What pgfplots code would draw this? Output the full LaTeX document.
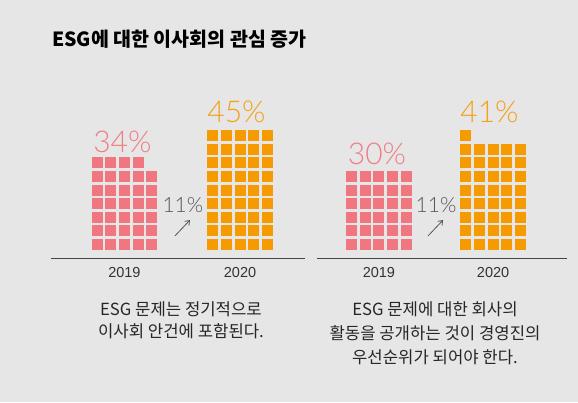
\documentclass[border=0pt]{standalone}
\usepackage{fontspec}
\usepackage{pgfplots}
\pgfplotsset{compat=1.18}
\usetikzlibrary{arrows.meta}
\setmainfont{Liberation Sans}
\newfontfamily\kr{Noto Sans CJK KR}
\IfFontExistsTF{Lato Light}{\newfontfamily\light{Lato Light}}{\newfontfamily\light{Liberation Sans}}

\definecolor{bg}{HTML}{E6E6E6}
\definecolor{pinkc}{HTML}{F07780}
\definecolor{orangec}{HTML}{F59A00}
\definecolor{pinklab}{HTML}{F07D86}
\definecolor{orangelab}{HTML}{F5A01A}
\definecolor{axisgray}{HTML}{444444}
\definecolor{midgray}{HTML}{555555}

\pgfplotsset{
  waffle/.style={
    x=13.6pt, y=13.6pt, ymin=0, ymax=11,
    anchor=south west, clip=false,
    axis x line=bottom, axis y line=none,
    x axis line style={-, draw=axisgray, line width=0.9pt},
    major tick length=0pt,
    xticklabels={2019,2020},
    xticklabel style={anchor=base, yshift=-19pt, text=black!80,
      font=\fontsize{14.5}{14.5}\selectfont},
  },
  sq/.style={only marks, mark=square*, color=#1, mark size=5pt,
    mark options={line width=0pt}},
}
\tikzset{
  big/.style={anchor=base, text=#1, font=\light\fontsize{30}{30}\selectfont},
  small/.style={anchor=base, text=midgray, font=\light\fontsize{21}{21}\selectfont},
}

\begin{document}
\begin{tikzpicture}
  \fill[bg] (0pt,0pt) rectangle (578pt,-402pt);

  \node[anchor=base west, inner sep=0pt, font=\kr\bfseries\fontsize{19.5}{19.5}\selectfont]
    at (52pt,-46.5pt) {ESG에 대한 이사회의 관심 증가};

  % left panel
  \begin{axis}[waffle, at={(51pt,-258pt)}, xmin=-2.40, xmax=16.27, xtick={3,11.5}]
    % 2019: 34%
    \addplot[sq=pinkc] coordinates {
      (1,1)(2,1)(3,1)(4,1)(5,1)
      (1,2)(2,2)(3,2)(4,2)(5,2)
      (1,3)(2,3)(3,3)(4,3)(5,3)
      (1,4)(2,4)(3,4)(4,4)(5,4)
      (1,5)(2,5)(3,5)(4,5)(5,5)
      (1,6)(2,6)(3,6)(4,6)(5,6)
      (1,7)(2,7)(3,7)(4,7)
    };
    % 2020: 45%
    \addplot[sq=orangec] coordinates {
      (9.5,1)(10.5,1)(11.5,1)(12.5,1)(13.5,1)
      (9.5,2)(10.5,2)(11.5,2)(12.5,2)(13.5,2)
      (9.5,3)(10.5,3)(11.5,3)(12.5,3)(13.5,3)
      (9.5,4)(10.5,4)(11.5,4)(12.5,4)(13.5,4)
      (9.5,5)(10.5,5)(11.5,5)(12.5,5)(13.5,5)
      (9.5,6)(10.5,6)(11.5,6)(12.5,6)(13.5,6)
      (9.5,7)(10.5,7)(11.5,7)(12.5,7)(13.5,7)
      (9.5,8)(10.5,8)(11.5,8)(12.5,8)(13.5,8)
      (9.5,9)(10.5,9)(11.5,9)(12.5,9)(13.5,9)
    };
    \node[big=pinklab] at (axis cs:2.85,7.79) {34\%};
    \node[big=orangelab] at (axis cs:11.24,9.93) {45\%};
    \node[small] at (axis cs:7.30,3.31) {11\%};
    \draw[midgray, line width=0.8pt, -{Straight Barb[length=4pt,width=6pt]}]
      (axis cs:6.71,1.62) -- (axis cs:7.82,2.79);
  \end{axis}

  % right panel
  \begin{axis}[waffle, at={(317pt,-258pt)}, xmin=-1.55, xmax=16.83, xtick={3,11.4}]
    % 2019: 30%
    \addplot[sq=pinkc] coordinates {
      (1,1)(2,1)(3,1)(4,1)(5,1)
      (1,2)(2,2)(3,2)(4,2)(5,2)
      (1,3)(2,3)(3,3)(4,3)(5,3)
      (1,4)(2,4)(3,4)(4,4)(5,4)
      (1,5)(2,5)(3,5)(4,5)(5,5)
      (1,6)(2,6)(3,6)(4,6)(5,6)
    };
    % 2020: 41%
    \addplot[sq=orangec] coordinates {
      (9.4,1)(10.4,1)(11.4,1)(12.4,1)(13.4,1)
      (9.4,2)(10.4,2)(11.4,2)(12.4,2)(13.4,2)
      (9.4,3)(10.4,3)(11.4,3)(12.4,3)(13.4,3)
      (9.4,4)(10.4,4)(11.4,4)(12.4,4)(13.4,4)
      (9.4,5)(10.4,5)(11.4,5)(12.4,5)(13.4,5)
      (9.4,6)(10.4,6)(11.4,6)(12.4,6)(13.4,6)
      (9.4,7)(10.4,7)(11.4,7)(12.4,7)(13.4,7)
      (9.4,8)(10.4,8)(11.4,8)(12.4,8)(13.4,8)
      (9.4,9)
    };
    \node[big=pinklab] at (axis cs:2.86,6.84) {30\%};
    \node[big=orangelab] at (axis cs:11.13,9.93) {41\%};
    \node[small] at (axis cs:7.20,3.31) {11\%};
    \draw[midgray, line width=0.8pt, -{Straight Barb[length=4pt,width=6pt]}]
      (axis cs:6.61,1.62) -- (axis cs:7.72,2.79);
  \end{axis}

  % base anchor of a multi-line node = baseline of its last line
  \node[anchor=base, align=center, inner sep=0pt, text=black!85,
    font=\kr\fontsize{16.7}{22}\selectfont] at (181pt,-337pt)
    {ESG 문제는 정기적으로\\이사회 안건에 포함된다.};
  \node[anchor=base, align=center, inner sep=0pt, text=black!85,
    font=\kr\fontsize{16.7}{24}\selectfont] at (435pt,-363pt)
    {ESG 문제에 대한 회사의\\활동을 공개하는 것이 경영진의\\우선순위가 되어야 한다.};
\end{tikzpicture}
\end{document}
